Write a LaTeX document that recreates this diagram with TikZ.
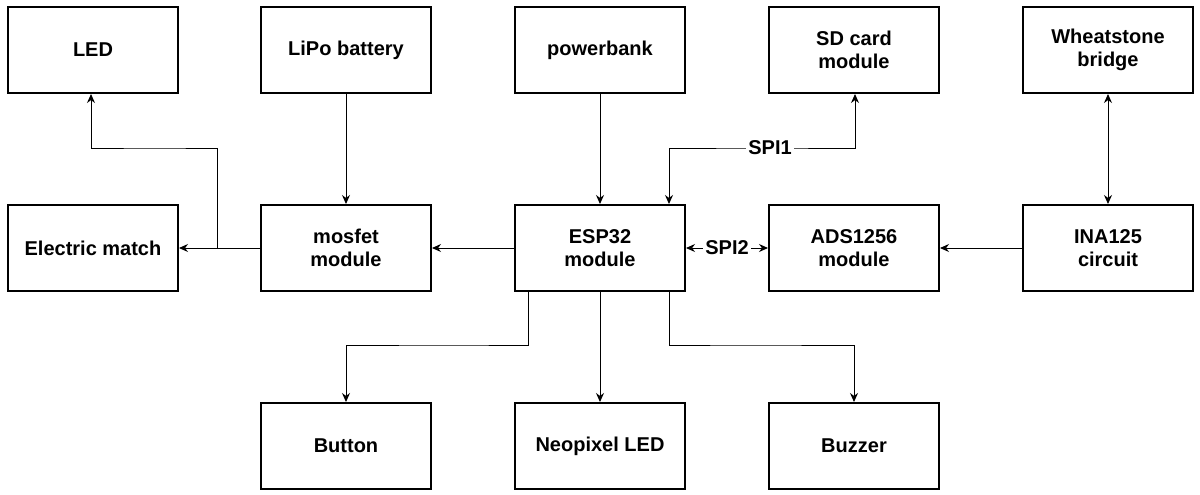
\documentclass[tikz,border=0pt]{standalone}
\usepackage{fontspec}
\setmainfont{Liberation Sans}
\usetikzlibrary{arrows.meta,positioning}
\tikzset{
    block/.style={draw, line width=1pt, minimum width=85pt, minimum height=43pt,
        align=center, font=\bfseries\fontsize{10pt}{11.5pt}\selectfont},
    link/.style={line width=0.5pt, -{Stealth[length=4.5pt,width=4pt]}},
    duplex/.style={line width=0.5pt, {Stealth[length=4.5pt,width=4pt]}-{Stealth[length=4.5pt,width=4pt]}},
    tag/.style={fill=white, inner sep=1pt, font=\bfseries\fontsize{10pt}{11.5pt}\selectfont}
}
\begin{document}
\begin{tikzpicture}[x=0.5pt,y=-0.5pt]
    \useasboundingbox (0,0) rectangle (1200,494);

    % Top row
    \node[block] (led) at (93,50) {LED};
    \node[block] (lipo) at (346,50) {LiPo battery};
    \node[block] (power) at (600,50) {powerbank};
    \node[block] (sd) at (854,50) {SD card\\module};
    \node[block] (wheat) at (1108,50) {Wheatstone\\bridge};

    % Middle row
    \node[block] (match) at (93,248) {Electric match};
    \node[block] (mosfet) at (346,248) {mosfet\\module};
    \node[block] (esp) at (600,248) {ESP32\\module};
    \node[block] (ads) at (854,248) {ADS1256\\module};
    \node[block] (ina) at (1108,248) {INA125\\circuit};

    % Bottom row
    \node[block] (button) at (346,446) {Button};
    \node[block] (neo) at (600,446) {Neopixel LED};
    \node[block] (buzz) at (854,446) {Buzzer};

    % Power lines
    \draw[link] (lipo) -- (mosfet);
    \draw[link] (power) -- (esp);
    \draw[link] (esp) -- (mosfet);
    \draw[link] (mosfet) -- (match);
    \coordinate (tap) at (217,248);
    \draw[link] (tap) |- (155,148) -| (led.south -| 91,0);

    % Buses
    \draw[duplex] (esp.north -| 669,0) |- (762,148) -| (sd.south -| 855,0);
    \node[tag] (spione) at (770,148) {SPI1};
    \draw[duplex] (esp) -- node[tag] (spitwo) {SPI2} (ads);
    \draw[duplex] (wheat) -- (ina);
    \draw[link] (ina) -- (ads);

    % Outputs
    \draw[link] (esp.south -| 528,0) |- (450,345) -| (button);
    \draw[link] (esp) -- (neo);
    \draw[link] (esp.south -| 669,0) |- (750,345) -| (buzz);
\end{tikzpicture}
\end{document}
